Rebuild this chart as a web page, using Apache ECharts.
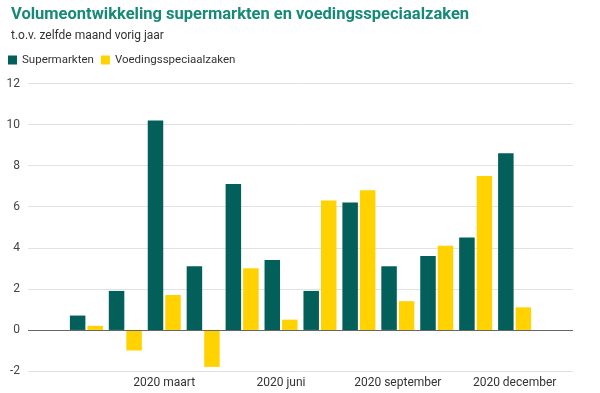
<!DOCTYPE html>
<html><head><meta charset="utf-8">
<script src="https://cdn.jsdelivr.net/npm/echarts@6/dist/echarts.min.js"></script>
<style>html,body{margin:0;padding:0;background:#fff}#c{width:600px;height:393px}</style>
</head><body><div id="c"></div>
<script>
const categories = ['2019 december','2020 januari','2020 februari','2020 maart','2020 april','2020 mei','2020 juni','2020 juli','2020 augustus','2020 september','2020 oktober','2020 november','2020 december','2021 januari'];
const supermarkten = [null, 0.7, 1.9, 10.2, 3.1, 7.1, 3.4, 1.9, 6.2, 3.1, 3.6, 4.5, 8.6, null];
const voedingsspeciaalzaken = [null, 0.2, -1.0, 1.7, -1.8, 3.0, 0.5, 6.3, 6.8, 1.4, 4.1, 7.5, 1.1, null];
const yTicks = {min: -2, max: 12, interval: 2};

const chart = echarts.init(document.getElementById('c'), null, {renderer: 'canvas'});
chart.setOption({
  animation: false,
  textStyle: {fontFamily: 'Roboto'},
  title: [
    {text: 'Volumeontwikkeling supermarkten en voedingsspeciaalzaken', left: 6, top: 1,
     textStyle: {fontFamily: 'Roboto', fontSize: 16.5, fontWeight: 'bold', color: '#168a77'}},
    {text: 't.o.v. zelfde maand vorig jaar', left: 6, top: 25,
     textStyle: {fontFamily: 'Roboto', fontSize: 12, fontWeight: 'normal', color: '#333'}}
  ],
  legend: {
    left: 3, top: 49, itemWidth: 9, itemHeight: 9, itemGap: 7, icon: 'rect',
    textStyle: {fontFamily: 'Roboto', fontSize: 11.5, color: '#333'},
    data: ['Supermarkten', 'Voedingsspeciaalzaken']
  },
  grid: {left: 28, right: 27, top: 83.5, bottom: 22, containLabel: false},
  xAxis: {
    type: 'category', data: categories,
    axisLine: {show: false}, axisTick: {show: false},
    axisLabel: {interval: (i) => i > 0 && i % 3 === 0, fontFamily: 'Roboto', fontSize: 12, color: '#333', margin: 6}
  },
  yAxis: {
    type: 'value', min: yTicks.min, max: yTicks.max, interval: yTicks.interval,
    axisLabel: {fontFamily: 'Roboto', fontSize: 12, color: '#444', margin: 8},
    splitLine: {lineStyle: {color: '#e2e2e2', width: 1}},
    axisLine: {show: false}, axisTick: {show: false}
  },
  series: [
    {name: 'Supermarkten', type: 'bar', data: supermarkten, barWidth: 15.5, barGap: '13%',
     itemStyle: {color: '#035f59'},
     markLine: {symbol: 'none', silent: true, label: {show: false},
       lineStyle: {color: '#666', width: 1.2, type: 'solid'}, data: [{yAxis: 0}]}},
    {name: 'Voedingsspeciaalzaken', type: 'bar', data: voedingsspeciaalzaken, barWidth: 15.5, barGap: '13%',
     itemStyle: {color: '#ffd200'}}
  ]
});
</script></body></html>
